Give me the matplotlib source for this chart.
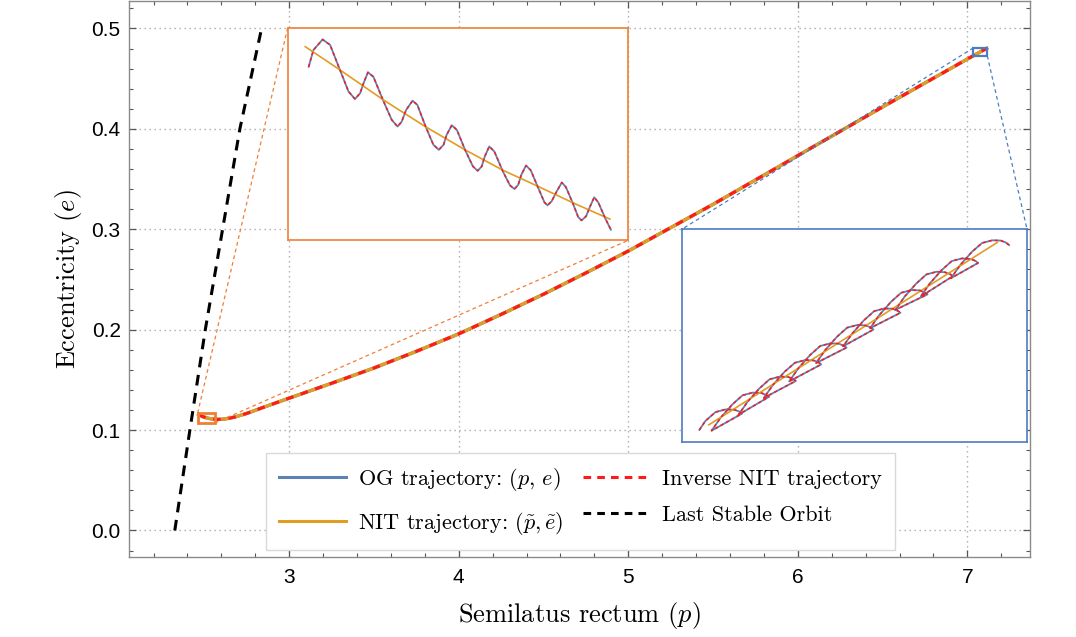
import numpy as np
import matplotlib
matplotlib.use("Agg")
import matplotlib.pyplot as plt
from matplotlib.lines import Line2D
from matplotlib.patches import Rectangle
from matplotlib.ticker import MultipleLocator

plt.rcParams['mathtext.fontset'] = 'cm'

# ---------------- data ----------------
# main trajectory (OG / NIT / inverse NIT coincide at this scale)
og_p = [2.466, 2.49, 2.52, 2.55, 2.58, 2.62, 2.68, 2.75, 2.85, 3.0, 3.25, 3.5,
        3.75, 4.0, 4.25, 4.5, 4.75, 5.0, 5.5, 6.0, 6.5, 7.0, 7.1136]
og_e = [0.1155, 0.1134, 0.1118, 0.1109, 0.1106, 0.1110, 0.1130, 0.1166, 0.1228,
        0.1318, 0.1466, 0.1618, 0.1784, 0.1958, 0.2152, 0.2353, 0.2565, 0.2783,
        0.3248, 0.3733, 0.4218, 0.4695, 0.4801]

# last stable orbit
lso_e = [0.0, 0.1, 0.2, 0.3, 0.4, 0.5]
lso_p = [2.325, 2.414, 2.505, 2.607, 2.709, 2.837]

# zoom near the end of the inspiral (orange inset)
og_end_p = [2.4662, 2.4676, 2.4703, 2.4725, 2.4754, 2.4779, 2.4798, 2.4813, 2.4823,
            2.4836, 2.4852, 2.4882, 2.4906, 2.4923, 2.4935, 2.4948, 2.4967, 2.4981,
            2.5006, 2.5028, 2.5044, 2.5058, 2.5067, 2.5082, 2.5097, 2.5121, 2.5144,
            2.5158, 2.5170, 2.5179, 2.5192, 2.5207, 2.5232, 2.5253, 2.5266, 2.5277,
            2.5286, 2.5300, 2.5314, 2.5336, 2.5354, 2.5363, 2.5375, 2.5390, 2.5405,
            2.5417, 2.5437, 2.5453, 2.5463, 2.5476, 2.5488, 2.5500, 2.5512, 2.5532,
            2.5549]
og_end_e = [0.11519, 0.11598, 0.11648, 0.11622, 0.11504, 0.11402, 0.11367, 0.11394,
            0.11441, 0.11493, 0.11472, 0.11355, 0.11268, 0.11237, 0.11260, 0.11315,
            0.11359, 0.11339, 0.11234, 0.11151, 0.11127, 0.11151, 0.11198, 0.11243,
            0.11221, 0.11127, 0.11049, 0.11028, 0.11049, 0.11096, 0.11143, 0.11119,
            0.11025, 0.10959, 0.10942, 0.10962, 0.11009, 0.11053, 0.11030, 0.10946,
            0.10879, 0.10865, 0.10884, 0.10931, 0.10973, 0.10951, 0.10876, 0.10810,
            0.10794, 0.10813, 0.10860, 0.10903, 0.10879, 0.10805, 0.10750]
nit_end_p = [2.4652, 2.4754, 2.4882, 2.5004, 2.5121, 2.5233, 2.5336, 2.5439, 2.5546]
nit_end_e = [0.11614, 0.11504, 0.11362, 0.11237, 0.11127, 0.11030, 0.10954, 0.10876, 0.10800]

# zoom near the start of the inspiral (blue inset)
og_start_p = [7.04016, 7.0416, 7.0440, 7.0464, 7.0484, 7.0496, 7.05024,
              7.04304, 7.0452, 7.0480, 7.0504, 7.0528, 7.0548, 7.0560, 7.05664,
              7.04944, 7.0516, 7.0544, 7.0568, 7.0592, 7.0612, 7.0624, 7.06304,
              7.05544, 7.0576, 7.0604, 7.0628, 7.0652, 7.0672, 7.0684, 7.06904,
              7.06144, 7.0636, 7.0664, 7.0688, 7.0712, 7.0732, 7.0744, 7.07504,
              7.06784, 7.0700, 7.0728, 7.0752, 7.0776, 7.0796, 7.0808, 7.08144,
              7.07424, 7.0764, 7.0792, 7.0816, 7.0840, 7.0860, 7.0872, 7.08784,
              7.08064, 7.0828, 7.0856, 7.0880, 7.0904, 7.0924, 7.0936, 7.09424,
              7.08664, 7.0888, 7.0916, 7.0940, 7.0964, 7.0984, 7.0996, 7.10024,
              7.09264, 7.0948, 7.0976, 7.1000, 7.1024, 7.1044, 7.1056, 7.10624,
              7.09984, 7.1020, 7.1048, 7.1072, 7.1096, 7.1116, 7.1128, 7.1136]
og_start_e = [0.47314, 0.47348, 0.47381, 0.47391, 0.47390, 0.47383, 0.47375,
              0.47311, 0.47360, 0.47410, 0.47444, 0.47454, 0.47453, 0.47445, 0.47438,
              0.47371, 0.47420, 0.47470, 0.47504, 0.47514, 0.47513, 0.47505, 0.47498,
              0.47434, 0.47483, 0.47533, 0.47566, 0.47576, 0.47575, 0.47568, 0.47560,
              0.47496, 0.47545, 0.47595, 0.47629, 0.47639, 0.47638, 0.47630, 0.47623,
              0.47565, 0.47614, 0.47664, 0.47698, 0.47708, 0.47706, 0.47699, 0.47691,
              0.47628, 0.47676, 0.47726, 0.47760, 0.47770, 0.47769, 0.47761, 0.47754,
              0.47696, 0.47745, 0.47795, 0.47829, 0.47839, 0.47838, 0.47830, 0.47823,
              0.47765, 0.47814, 0.47864, 0.47898, 0.47908, 0.47906, 0.47899, 0.47891,
              0.47815, 0.47864, 0.47914, 0.47948, 0.47958, 0.47956, 0.47949, 0.47941,
              0.47884, 0.47933, 0.47983, 0.48016, 0.48026, 0.48025, 0.48018, 0.48008]
nit_start_p = [7.0424, 7.07656, 7.1108]
nit_start_e = [0.47333, 0.47675, 0.48018]

x_ticks = [3, 4, 5, 6, 7]
y_ticks = [0.0, 0.1, 0.2, 0.3, 0.4, 0.5]

legend_labels = ['OG trajectory: $(p,\\,e)$', 'NIT trajectory: $(\\tilde{p},\\tilde{e})$',
                 'Inverse NIT trajectory', 'Last Stable Orbit']

# ---------------- styling ----------------
C_BLUE = '#5E81B5'
C_ORANGE = '#E19C24'
C_RED = '#FF1A1A'
C_BOX_OR = '#EF7F35'
C_BOX_BL = '#4D7CC4'

fig = plt.figure(figsize=(10.76, 6.37), dpi=100)
ax = fig.add_axes([0.1199, 0.1256, 0.8374, 0.8728])
ax.set_xlim(2.055, 7.37)
ax.set_ylim(-0.0264, 0.5273)

ax.xaxis.set_major_locator(MultipleLocator(1))
ax.xaxis.set_minor_locator(MultipleLocator(0.2))
ax.yaxis.set_major_locator(MultipleLocator(0.1))
ax.yaxis.set_minor_locator(MultipleLocator(0.02))
ax.set_xticks(x_ticks)
ax.set_yticks(y_ticks)
ax.tick_params(which='both', direction='in', top=True, right=True, color='#555555')
ax.tick_params(which='major', length=5, width=0.9, labelsize=15,
               labelfontfamily='Liberation Sans')
ax.tick_params(which='minor', length=3, width=0.8)
ax.tick_params(axis='x', pad=8)
ax.tick_params(axis='y', pad=6)
for s in ax.spines.values():
    s.set_color('#8a8a8a')
    s.set_linewidth(1.0)
ax.grid(True, which='major', ls=(0, (1, 2.6)), color='#ababab', lw=1.0)
ax.set_axisbelow(True)

ax.set_xlabel('Semilatus rectum $(p)$', fontfamily='cmr10', fontsize=19, labelpad=9)
ax.set_ylabel('Eccentricity $(e)$', fontfamily='cmr10', fontsize=19, labelpad=5)

# main curves
ax.plot(lso_p, lso_e, color='black', lw=2.2, ls=(0, (3.5, 2.5)), zorder=3)
ax.plot(og_p, og_e, color=C_BLUE, lw=2.4, zorder=3)
ax.plot(og_p, og_e, color=C_ORANGE, lw=2.4, zorder=3.1)
ax.plot(og_p, og_e, color=C_RED, lw=2.2, ls=(0, (2.5, 2.5)), zorder=3.2)

# zoom rectangles and insets
rect_end = (2.46, 0.107, 0.10, 0.010)
rect_start = (7.036, 0.4727, 0.08184, 0.007975)
inset_end = (2.99, 0.289, 2.01, 0.211)
inset_start = (5.316, 0.0885, 2.036, 0.2115)

ax.add_patch(Rectangle(rect_end[:2], rect_end[2], rect_end[3], fill=False,
                       ec=C_BOX_OR, lw=2.0, zorder=6))
ax.add_patch(Rectangle(rect_start[:2], rect_start[2], rect_start[3], fill=False,
                       ec=C_BOX_BL, lw=1.6, zorder=6))

# connector lines
ax.plot([rect_end[0], inset_end[0]], [rect_end[1] + rect_end[3], inset_end[1] + inset_end[3]],
        color=C_BOX_OR, lw=0.9, ls=(0, (3, 2.5)), zorder=4)
ax.plot([rect_end[0] + rect_end[2], inset_end[0] + inset_end[2]], [rect_end[1], inset_end[1]],
        color=C_BOX_OR, lw=0.9, ls=(0, (3, 2.5)), zorder=4)
ax.plot([rect_start[0], inset_start[0]], [rect_start[1] + rect_start[3], inset_start[1] + inset_start[3]],
        color=C_BOX_BL, lw=0.9, ls=(0, (3, 2.5)), zorder=4)
ax.plot([rect_start[0] + rect_start[2], inset_start[0] + inset_start[2]],
        [rect_start[1], inset_start[1] + inset_start[3]],
        color=C_BOX_BL, lw=0.9, ls=(0, (3, 2.5)), zorder=4)


def make_inset(bounds, rect, color, op, oe, np_, ne):
    ia = ax.inset_axes(bounds, transform=ax.transData, zorder=5)
    ia.set_facecolor('white')
    ia.set_xlim(rect[0], rect[0] + rect[2])
    ia.set_ylim(rect[1], rect[1] + rect[3])
    ia.set_xticks([])
    ia.set_yticks([])
    for s in ia.spines.values():
        s.set_color(color)
        s.set_linewidth(1.2)
    ia.plot(op, oe, color=C_BLUE, lw=1.3, zorder=2, solid_joinstyle='round')
    ia.plot(np_, ne, color=C_ORANGE, lw=1.2, zorder=3)
    ia.plot(op, oe, color=C_RED, lw=1.1, ls=(0, (2, 2)), zorder=4)
    return ia


make_inset(inset_end, rect_end, C_BOX_OR, og_end_p, og_end_e, nit_end_p, nit_end_e)
make_inset(inset_start, rect_start, C_BOX_BL, og_start_p, og_start_e, nit_start_p, nit_start_e)

# legend
handles = [Line2D([], [], color=C_BLUE, lw=2.2),
           Line2D([], [], color=C_ORANGE, lw=2.2),
           Line2D([], [], color=C_RED, lw=2.2, ls=(0, (2.5, 2))),
           Line2D([], [], color='black', lw=2.2, ls=(0, (2.5, 2)))]
leg = ax.legend(handles, legend_labels, ncol=2, loc='lower left',
                bbox_to_anchor=(0.1517, 0.0126), borderaxespad=0,
                prop={'family': 'cmr10', 'size': 16}, fancybox=False,
                edgecolor='#d9d9d9', framealpha=1, handlelength=3.0,
                handletextpad=0.55, columnspacing=0.9, labelspacing=0.75,
                borderpad=0.6)
leg.get_frame().set_linewidth(1.0)
leg.set_zorder(10)

fig.savefig('out.png', dpi=100)
